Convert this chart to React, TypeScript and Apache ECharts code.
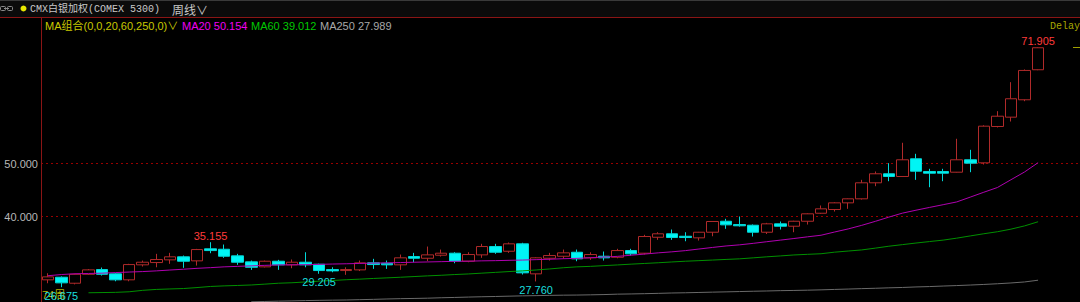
import React, { useEffect, useRef } from "react";
import * as echarts from "echarts";

// Weekly OHLC (CMX silver, weekly)
const openPrices = [
  28.06, 28.55, 27.42, 29.11, 30.0, 29.19, 28.06, 30.89, 31.32, 31.83,
  32.4, 31.64, 33.91, 33.83, 32.58, 31.45, 30.51, 31.57, 30.89, 31.38,
  31.0, 30.0, 29.81, 29.94, 31.26, 31.19, 30.89, 32.45, 32.13, 32.7,
  33.08, 31.57, 32.77, 34.34, 33.45, 34.85, 29.19, 32.13, 32.51, 33.26,
  32.21, 32.51, 32.32, 33.58, 33.08, 36.09, 36.74, 36.28, 35.98, 37.04,
  39.11, 38.49, 38.36, 37.04, 38.62, 38.17, 39.11, 40.62, 41.32, 42.58,
  43.34, 46.36, 48.06, 47.55, 50.89, 48.49, 48.49, 48.36, 50.7, 50.13,
  56.98, 58.74, 62.02, 67.68,
];
const closePrices = [
  28.62, 27.49, 29.11, 29.94, 29.11, 28.06, 30.94, 31.38, 31.89, 32.4,
  31.57, 33.77, 33.58, 32.51, 31.38, 30.43, 31.57, 30.89, 31.38, 30.89,
  29.81, 29.75, 30.0, 31.26, 30.94, 30.89, 32.21, 32.13, 32.77, 33.08,
  31.57, 32.83, 34.34, 33.26, 34.85, 29.38, 32.21, 32.64, 33.15, 32.02,
  32.83, 32.21, 33.58, 32.96, 36.23, 36.74, 36.04, 36.04, 37.04, 39.06,
  38.43, 38.25, 37.04, 38.62, 38.17, 39.11, 40.51, 41.45, 42.58, 43.34,
  46.36, 48.06, 47.55, 50.7, 48.55, 48.17, 48.17, 50.7, 50.06, 57.04,
  58.92, 62.21, 67.55, 71.83,
];
const highPrices = [
  29.3, 28.7, 29.2, 30.1, 30.38, 29.3, 31.08, 31.7, 32.96, 33.15,
  32.64, 33.9, 35.155, 34.72, 32.96, 31.7, 31.7, 31.83, 31.89, 33.26,
  31.1, 30.43, 30.43, 31.7, 32.02, 31.7, 32.83, 33.15, 34.34, 33.77,
  33.26, 33.26, 34.85, 34.85, 35.1, 35.05, 32.3, 33.15, 33.77, 33.77,
  33.26, 33.4, 33.91, 33.91, 36.55, 37.04, 37.55, 37.04, 37.1, 39.1,
  39.57, 40.0, 38.5, 38.8, 39.06, 39.2, 40.6, 42.08, 42.7, 43.4,
  46.92, 48.49, 50.06, 53.91, 51.83, 49.0, 49.0, 54.66, 52.58, 57.2,
  59.87, 65.34, 67.74, 71.905,
];
const lowPrices = [
  27.42, 26.675, 27.2, 29.0, 28.87, 27.79, 27.79, 30.57, 30.43, 31.08,
  30.32, 30.75, 33.08, 32.21, 30.89, 29.94, 30.4, 29.94, 30.25, 30.43,
  29.205, 29.49, 29.0, 29.72, 30.13, 30.13, 29.94, 31.38, 31.57, 32.45,
  31.19, 31.38, 32.21, 32.96, 33.15, 29.06, 27.76, 31.7, 32.02, 31.57,
  31.83, 31.7, 32.13, 32.64, 32.83, 35.6, 35.6, 35.34, 35.47, 36.28,
  37.68, 38.1, 36.23, 36.7, 37.55, 37.04, 38.49, 40.51, 40.94, 41.45,
  43.2, 45.72, 46.66, 47.5, 46.92, 45.53, 46.66, 48.3, 48.36, 49.81,
  56.8, 57.92, 61.75, 67.6,
];

// Moving averages
const ma20 = [
  28.83, 29.06, 29.21, 29.26, 29.32, 29.43, 29.53, 29.62, 29.75, 29.91,
  30.06, 30.23, 30.36, 30.51, 30.6, 30.7, 30.79, 30.87, 30.89, 30.92,
  30.98, 31.04, 31.09, 31.15, 31.21, 31.26, 31.32, 31.38, 31.43, 31.49,
  31.55, 31.58, 31.64, 31.68, 31.74, 31.79, 31.87, 31.94, 32.04, 32.11,
  32.23, 32.36, 32.49, 32.7, 32.92, 33.15, 33.34, 33.57, 33.87, 34.17,
  34.45, 34.66, 34.94, 35.25, 35.55, 35.85, 36.17, 36.47, 37.08, 37.66,
  38.34, 39.09, 39.89, 40.64, 41.19, 41.72, 42.23, 42.75, 43.66, 44.58,
  45.47, 46.94, 48.4, 50.154,
];
const ma60 = [
  null, null, null,
  25.62, 25.66, 25.7, 25.81, 26.08, 26.25, 26.34, 26.42, 26.6, 26.81,
  26.92, 27.0, 27.09, 27.25, 27.42, 27.51, 27.66, 27.81, 27.94, 28.08,
  28.19, 28.32, 28.43, 28.55, 28.68, 28.81, 28.92, 29.06, 29.17, 29.32,
  29.47, 29.62, 29.75, 29.92, 30.11, 30.34, 30.51, 30.6, 30.74, 30.87,
  31.02, 31.15, 31.28, 31.43, 31.57, 31.68, 31.79, 31.91, 32.02, 32.21,
  32.4, 32.57, 32.75, 32.87, 32.98, 33.28, 33.49, 33.7, 34.04, 34.4,
  34.7, 35.0, 35.28, 35.55, 35.92, 36.34, 36.75, 37.13, 37.62, 38.23, 39.012,
];
const ma250 = [
  null, null, null, null, null, null, null, null, null, null,
  null, null, null, null, null,
  23.92, 23.98, 24.04, 24.09, 24.15, 24.19, 24.23, 24.26, 24.32, 24.38,
  24.45, 24.51, 24.55, 24.6, 24.68, 24.74, 24.81, 24.87, 24.92, 24.98,
  25.04, 25.08, 25.13, 25.17, 25.19, 25.23, 25.28, 25.36, 25.4, 25.45,
  25.51, 25.58, 25.62, 25.68, 25.74, 25.79, 25.85, 25.91, 25.96, 26.02,
  26.06, 26.11, 26.17, 26.25, 26.32, 26.4, 26.47, 26.55, 26.62, 26.72,
  26.79, 26.89, 26.98, 27.08, 27.19, 27.32, 27.47, 27.66, 27.989,
];

// Annotated highs / lows: [candle index, price, "high" | "low"]
const annotations: [number, number, string][] = [
  [73, 71.905, "high"],
  [12, 35.155, "high"],
  [20, 29.205, "low"],
  [36, 27.76, "low"],
  [1, 26.675, "low"],
];

const yTickLabels = [40, 50];
const maParams = "(0,0,20,60,250,0)";
const instrument = "CMX白银加权(COMEX 5300)";
const period = "周线";

const weekLabels = openPrices.map((_, i) => `W${i + 1}`);

const SANS = '"Liberation Sans", Arial, "Noto Sans CJK SC", sans-serif';
const Y_MIN = 23.88;
const Y_MAX = 77.63;

export default function App() {
  const ref = useRef<HTMLDivElement>(null);

  useEffect(() => {
    if (!ref.current) return;
    const chart = echarts.init(ref.current, undefined, { renderer: "svg" });

    const candles = openPrices.map((o, i) => [o, closePrices[i], lowPrices[i], highPrices[i]]);
    const last = (a: (number | null)[]) => (a[a.length - 1] as number).toFixed(3);

    const markData = annotations.map(([idx, price, kind]) => ({
      coord: [idx, price],
      value: price,
      label: {
        show: true,
        position: kind === "high" ? "top" : "bottom",
        distance: kind === "high" ? 1 : 3,
        color: kind === "high" ? "#ff3b3b" : "#19dede",
        fontSize: 11,
        fontFamily: SANS,
        formatter: () => price.toFixed(3),
      },
    }));

    const option: any = {
      animation: false,
      backgroundColor: "#000",
      grid: [
        { left: 41, right: 8, top: 17, bottom: 0 },
        { left: 41, right: 0, top: 17, bottom: 0 },
      ],
      xAxis: [
        {
          type: "category",
          gridIndex: 0,
          data: weekLabels,
          max: 75,
          boundaryGap: true,
          show: false,
        },
        { type: "value", gridIndex: 1, min: 0, max: 1, show: false },
      ],
      yAxis: [
        {
          type: "value",
          gridIndex: 0,
          min: Y_MIN,
          max: Y_MAX,
          show: false,
        },
        {
          type: "value",
          gridIndex: 1,
          min: Y_MIN,
          max: Y_MAX,
          axisLine: { show: true, lineStyle: { color: "#8a1515", width: 1 } },
          axisTick: { show: false, customValues: yTickLabels },
          splitLine: { show: true, lineStyle: { color: "#990000", type: [2, 3], width: 1 } },
          axisLabel: {
            customValues: yTickLabels,
            formatter: (v: number) => v.toFixed(3),
            color: "#b8b8b8",
            fontSize: 11,
            fontFamily: SANS,
            margin: 3,
          },
        },
      ],
      series: [
        {
          type: "candlestick",
          xAxisIndex: 0,
          yAxisIndex: 0,
          data: candles,
          barWidth: 12,
          itemStyle: {
            color: "#000",
            color0: "#00f5f5",
            borderColor: "#b02a2a",
            borderColor0: "#00d8d8",
            borderWidth: 1,
          },
          markPoint: {
            symbol: "circle",
            symbolSize: 0,
            itemStyle: { color: "transparent" },
            data: markData,
          },
        },
        {
          type: "line",
          data: ma20,
          symbol: "none",
          lineStyle: { color: "#b000b0", width: 1 },
        },
        {
          type: "line",
          data: ma60,
          symbol: "none",
          lineStyle: { color: "#009000", width: 1 },
        },
        {
          type: "line",
          data: ma250,
          symbol: "none",
          lineStyle: { color: "#6a6a6a", width: 1 },
        },
      ],
      graphic: [
        { type: "rect", shape: { x: 0, y: 0, width: 1080, height: 17 }, style: { fill: "#0b0b0b" }, z: 1 },
        { type: "line", shape: { x1: 0, y1: 0.5, x2: 1080, y2: 0.5 }, style: { stroke: "#3a3a3a", lineWidth: 1 }, z: 2 },
        { type: "line", shape: { x1: 0, y1: 17.5, x2: 1080, y2: 17.5 }, style: { stroke: "#8a1515", lineWidth: 1 }, z: 2 },
        // link icon
        { type: "rect", shape: { x: 0.5, y: 6.5, width: 5, height: 4, r: 1 }, style: { fill: "none", stroke: "#8a8a8a", lineWidth: 1 }, z: 3 },
        { type: "rect", shape: { x: 7.5, y: 6.5, width: 5, height: 4, r: 1 }, style: { fill: "none", stroke: "#8a8a8a", lineWidth: 1 }, z: 3 },
        { type: "line", shape: { x1: 4, y1: 8.5, x2: 9, y2: 8.5 }, style: { stroke: "#8a8a8a", lineWidth: 1 }, z: 3 },
        { type: "circle", shape: { cx: 23.5, cy: 8.5, r: 3 }, style: { fill: "#e6e600" }, z: 3 },
        {
          type: "text", x: 30, y: 9, z: 3,
          style: { text: instrument, fill: "#c8c8c8", font: '10px "Liberation Mono", "Noto Sans CJK SC", monospace', verticalAlign: "middle" },
        },
        {
          type: "text", x: 172, y: 9, z: 3,
          style: { text: period + "∨", fill: "#c8c8c8", font: '12px "Noto Sans CJK SC", sans-serif', verticalAlign: "middle" },
        },
        {
          type: "text", x: 45, y: 26, z: 3,
          style: { text: "MA组合" + maParams + "∨", fill: "#c8c800", font: `11px ${SANS}`, verticalAlign: "middle" },
        },
        {
          type: "text", x: 182, y: 26, z: 3,
          style: { text: "MA20 " + last(ma20), fill: "#f000f0", font: `11px ${SANS}`, verticalAlign: "middle" },
        },
        {
          type: "text", x: 251, y: 26, z: 3,
          style: { text: "MA60 " + last(ma60), fill: "#00c800", font: `11px ${SANS}`, verticalAlign: "middle" },
        },
        {
          type: "text", x: 320, y: 26, z: 3,
          style: { text: "MA250 " + last(ma250), fill: "#a8a8a8", font: `11px ${SANS}`, verticalAlign: "middle" },
        },
        {
          type: "text", x: 1050, y: 26, z: 3,
          style: { text: "Delay", fill: "#a8a800", font: '10px "Liberation Mono", monospace', verticalAlign: "middle" },
        },
        { type: "line", shape: { x1: 1073, y1: 47.5, x2: 1080, y2: 47.5 }, style: { stroke: "#a0a000", lineWidth: 1 }, z: 3 },
        {
          type: "text", x: 42, y: 295, z: 0,
          style: { text: `${openPrices.length}周`, fill: "#b0b000", font: `11px ${SANS}`, verticalAlign: "middle" },
        },
      ],
    };

    chart.setOption(option);
    return () => chart.dispose();
  }, []);

  return (
    <div
      ref={ref}
      style={{ position: "fixed", left: 0, top: 0, width: 1080, height: 302, background: "#000" }}
    />
  );
}
